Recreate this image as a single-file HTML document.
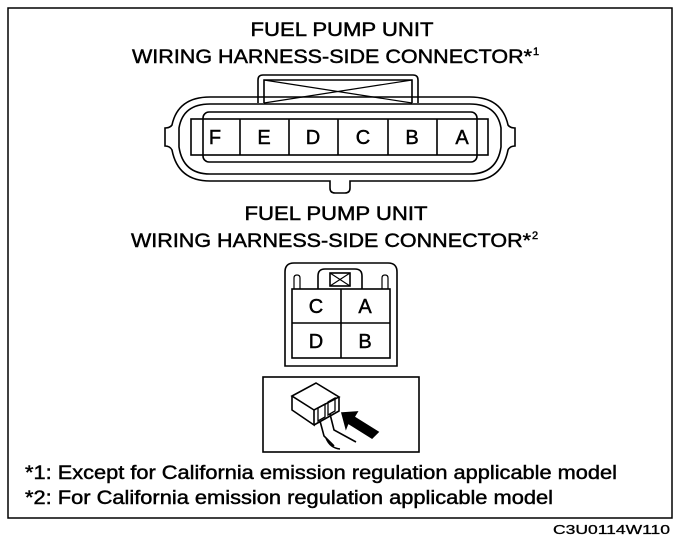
<!DOCTYPE html>
<html><head><meta charset="utf-8"><style>
html,body{margin:0;padding:0;background:#fff;}
svg{display:block;}
text{font-family:"Liberation Sans",Arial,sans-serif;fill:#000;stroke:#000;stroke-width:0.45;}
</style></head><body>
<svg width="688" height="544" viewBox="0 0 688 544" xmlns="http://www.w3.org/2000/svg">
<rect x="8" y="8" width="664" height="510" fill="none" stroke="#000" stroke-width="1.5"/>
<text x="342" y="36" font-size="19" text-anchor="middle" textLength="183" lengthAdjust="spacingAndGlyphs">FUEL PUMP UNIT</text>
<text x="132" y="63" font-size="19" textLength="400" lengthAdjust="spacingAndGlyphs">WIRING HARNESS-SIDE CONNECTOR*</text>
<text x="533" y="55" font-size="11">1</text>
<g fill="none" stroke="#000" stroke-width="1.6">
<path d="M258 103 V80 Q258 75 263 75 H413 Q418 75 418 80 V103"/>
<path d="M264 103 V80 H412 V103"/>
<path d="M264 80 L412 103 M264 103 L412 80" stroke-width="1.2"/>
<path d="M210 97 H470 Q502 97 508 125 Q510 128 515 128 V146 Q510 146 508 150 Q502 181 470 181 H350 V188 Q350 193 345 193 H335 Q330 193 330 188 V181 H210 Q178 181 172 150 Q170 146 165 146 V128 Q170 128 172 125 Q178 97 210 97 Z"/>
<path d="M210 104 H470 Q497 104 501 128 V147 Q497 174 470 174 H210 Q183 174 179 147 V128 Q183 104 210 104 Z"/>
<rect x="203" y="112" width="274" height="50" rx="6"/>
<rect x="191" y="119" width="297" height="36"/>
<path d="M240 119V155 M289 119V155 M338 119V155 M388 119V155 M437 119V155"/>
</g>
<g font-size="20" text-anchor="middle">
<text x="215" y="144">F</text><text x="264" y="144">E</text><text x="313" y="144">D</text>
<text x="363" y="144">C</text><text x="412" y="144">B</text><text x="462" y="144">A</text>
</g>
<text x="336" y="220" font-size="19" text-anchor="middle" textLength="183" lengthAdjust="spacingAndGlyphs">FUEL PUMP UNIT</text>
<text x="131" y="247" font-size="19" textLength="400" lengthAdjust="spacingAndGlyphs">WIRING HARNESS-SIDE CONNECTOR*</text>
<text x="532" y="239" font-size="11">2</text>
<g fill="none" stroke="#000" stroke-width="1.6">
<path d="M285 366 V272 Q285 263 294 263 H388 Q397 263 397 272 V366 Z"/>
<rect x="292" y="289" width="98" height="69"/>
<path d="M341 289V358 M292 323H390"/>
<path d="M318 289 V276 Q318 269 325 269 H355 Q362 269 362 276 V289"/>
<rect x="330" y="273" width="20" height="13"/>
<path d="M330 273 L350 286 M330 286 L350 273" stroke-width="1.1"/>
<path d="M294 289 V278 Q294 275 297 275 Q300 275 300 278 V289 M382 289 V278 Q382 275 385 275 Q388 275 388 278 V289" stroke-width="1.2"/>
</g>
<g font-size="20" text-anchor="middle">
<text x="316" y="313">C</text><text x="365" y="313">A</text>
<text x="316" y="348">D</text><text x="365" y="348">B</text>
</g>
<g fill="none" stroke="#000" stroke-width="1.6">
<rect x="263" y="377" width="156" height="75"/>
<path d="M292 396 L316 383 L339 397 L314 410 Z"/>
<path d="M292 396 V410 L314 425 V410"/>
<path d="M314 425 L339 411 V397"/>
<path d="M318 408 L325 404 V417 L318 421Z M328 402 L335 398 V411 L328 415Z" stroke-width="1.3"/>
<path d="M320 421 L324 436 L334 446 M330 414 L334 430 L356 442 M326 438 Q330 448 340 449"/>
<path d="M342 413 L357 412 L354 417 L378 432 L372 438 L348 423 L346 428 Z" fill="#000"/>
</g>
<text x="25" y="479" font-size="19" textLength="592" lengthAdjust="spacingAndGlyphs">*1: Except for California emission regulation applicable model</text>
<text x="25" y="504" font-size="19" textLength="528" lengthAdjust="spacingAndGlyphs">*2: For California emission regulation applicable model</text>
<text x="553" y="534" font-size="13" textLength="117" lengthAdjust="spacingAndGlyphs" style="stroke-width:0.3">C3U0114W110</text>
</svg>
</body></html>
